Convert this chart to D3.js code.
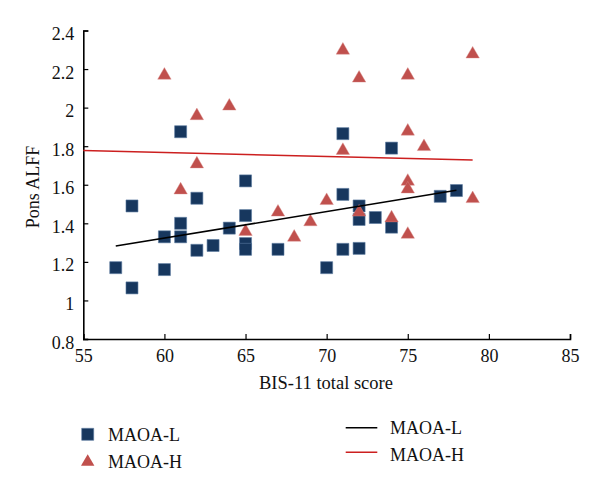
<!DOCTYPE html>
<html><head><meta charset="utf-8">
<script src="https://cdn.jsdelivr.net/npm/d3@7"></script>
<style>body{margin:0;background:#fff}text{font-family:"Liberation Serif","Times New Roman",serif;fill:#111}</style>
</head><body><svg id="c" width="600" height="495"></svg>
<script>
const maoaL_x = [57,58,58,60,60,61,61,61,62,62,63,64,65,65,65,65,67,70,71,71,71,72,72,72,73,74,74,77,78];
const maoaL_y = [1.17,1.49,1.065,1.33,1.16,1.40,1.33,1.875,1.53,1.26,1.285,1.375,1.62,1.44,1.295,1.265,1.265,1.17,1.865,1.55,1.265,1.49,1.42,1.27,1.43,1.79,1.38,1.54,1.57];
const maoaH_x = [60,61,62,62,64,65,67,68,69,70,71,71,72,72,74,75,75,75,75,75,76,79,79];
const maoaH_y = [2.17,1.575,1.96,1.71,2.01,1.36,1.46,1.33,1.41,1.52,2.30,1.78,2.155,1.46,1.43,2.17,1.88,1.62,1.58,1.345,1.80,2.28,1.53];
const fitL = [[57,1.282],[78,1.571]];
const fitH = [[55,1.777],[79,1.728]];
const xTicks = [55,60,65,70,75,80,85];
const yTicks = [0.8,1,1.2,1.4,1.6,1.8,2,2.2,2.4];
const yTickLabels = ["0.8","1","1.2","1.4","1.6","1.8","2","2.2","2.4"];

const svg = d3.select("#c");
const x = d3.scaleLinear().domain([55,85]).range([83.3,570]);
const y = d3.scaleLinear().domain([0.8,2.4]).range([339,30.5]);

// axes
const xa = svg.append("g").attr("transform","translate(0,339)")
  .call(d3.axisBottom(x).tickValues(xTicks).tickSize(-5).tickPadding(9).tickFormat(d3.format("d")));
const ya = svg.append("g").attr("transform","translate(83.3,0)")
  .call(d3.axisLeft(y).tickValues(yTicks).tickSize(-5).tickPadding(9).tickFormat((d,i)=>yTickLabels[i]));
[xa,ya].forEach(a=>{
  a.select(".domain").attr("stroke","#000").attr("stroke-width",1.6);
  a.selectAll(".tick line").attr("stroke","#000").attr("stroke-width",1.2);
  a.selectAll(".tick text").attr("font-size",18).attr("font-family","Liberation Serif, serif").attr("fill","#111");
});
xa.selectAll(".tick text").attr("dy","0.8em");
ya.selectAll(".tick text").attr("dy","0.5em");

svg.append("text").attr("x",326).attr("y",389).attr("text-anchor","middle").attr("font-size",18.5).text("BIS-11 total score");
svg.append("text").attr("transform","translate(39,187) rotate(-90)").attr("text-anchor","middle").attr("font-size",18).text("Pons ALFF");

// fit lines
const line = d3.line().x(d=>x(d[0])).y(d=>y(d[1]));
svg.append("path").attr("d",line(fitH)).attr("stroke","#cc1f1f").attr("stroke-width",1.5).attr("fill","none");

const sq = d3.symbol().type(d3.symbolSquare).size(144);
const tri = d3.symbol().type(d3.symbolTriangle).size(78);

svg.append("g").selectAll("path").data(maoaL_x.map((v,i)=>[v,maoaL_y[i]])).join("path")
  .attr("d",sq).attr("transform",d=>`translate(${x(d[0])},${y(d[1])})`)
  .attr("fill","#17375e").attr("stroke","#5a7aa0").attr("stroke-width",0.6);
svg.append("g").selectAll("path").data(maoaH_x.map((v,i)=>[v,maoaH_y[i]])).join("path")
  .attr("d",tri).attr("transform",d=>`translate(${x(d[0])},${y(d[1])+0.5})`)
  .attr("fill","#c0504d").attr("stroke","#d88a88").attr("stroke-width",0.4);

svg.append("path").attr("d",line(fitL)).attr("stroke","#000").attr("stroke-width",1.5).attr("fill","none");

// legend
const lg = svg.append("g");
lg.append("path").attr("d",sq).attr("transform","translate(87.7,434.3)").attr("fill","#17375e").attr("stroke","#5a7aa0").attr("stroke-width",0.6);
lg.append("text").attr("x",108).attr("y",440.5).attr("font-size",18).text("MAOA-L");
lg.append("path").attr("d",tri).attr("transform","translate(87.7,462)").attr("fill","#c0504d");
lg.append("text").attr("x",108).attr("y",468).attr("font-size",18).text("MAOA-H");
lg.append("line").attr("x1",345.7).attr("x2",377.3).attr("y1",427.7).attr("y2",427.7).attr("stroke","#000").attr("stroke-width",1.5);
lg.append("text").attr("x",390).attr("y",434).attr("font-size",18).text("MAOA-L");
lg.append("line").attr("x1",345.7).attr("x2",377.3).attr("y1",452.3).attr("y2",452.3).attr("stroke","#cc1f1f").attr("stroke-width",1.5);
lg.append("text").attr("x",390).attr("y",460.7).attr("font-size",18).text("MAOA-H");
</script></body></html>
